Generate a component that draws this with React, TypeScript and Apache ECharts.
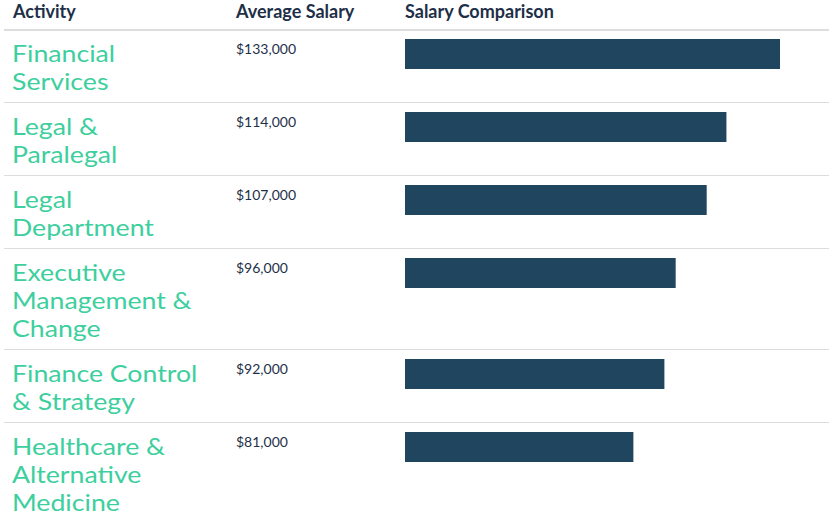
import React, { useEffect, useRef } from "react";
import * as echarts from "echarts";

const headers = ["Activity", "Average Salary", "Salary Comparison"];
const activities = [
  "Financial\nServices",
  "Legal &\nParalegal",
  "Legal\nDepartment",
  "Executive\nManagement &\nChange",
  "Finance Control\n& Strategy",
  "Healthcare &\nAlternative\nMedicine",
];
const salaries = [133000, 114000, 107000, 96000, 92000, 81000];

const W = 829;
const H = 524;
const HEADER_H = 30;
const LINE_H = 28;
const ROW_PAD = 17;
const BAR_LEFT = 405;
const BAR_MAX_W = 375;
const GREEN = "#3dcf9d";
const NAVY = "#20465f";
const TEXT = "#1e2f48";
const FONT = "Lato, 'Open Sans', sans-serif";

const fmt = (v: number) => "$" + v.toLocaleString("en-US");

export default function App() {
  const ref = useRef<HTMLDivElement>(null);
  useEffect(() => {
    if (!ref.current) return;
    const chart = echarts.init(ref.current, undefined, { renderer: "svg" });

    // row tops derived from the number of label lines
    const rowTops: number[] = [];
    let y = HEADER_H;
    activities.forEach((a) => {
      rowTops.push(y);
      y += a.split("\n").length * LINE_H + ROW_PAD;
    });

    const maxVal = salaries[0];
    chart.setOption({
      animation: false,
      grid: { left: BAR_LEFT, top: 0, width: BAR_MAX_W, height: H },
      xAxis: { type: "value", min: 0, max: maxVal, show: false },
      yAxis: { type: "value", min: 0, max: H, inverse: true, show: false },
      graphic: [
        { type: "text", left: 13, top: 2, style: { text: headers[0], font: `bold 18px ${FONT}`, fill: TEXT } },
        { type: "text", left: 236, top: 2, style: { text: headers[1], font: `bold 18px ${FONT}`, fill: TEXT } },
        { type: "text", left: 405, top: 2, style: { text: headers[2], font: `bold 18px ${FONT}`, fill: TEXT } },
        { type: "rect", shape: { x: 4, y: 29, width: W - 4, height: 2 }, style: { fill: "#dddddd" } },
      ],
      series: [
        {
          type: "custom",
          silent: true,
          data: salaries.map((s, i) => [s, rowTops[i]]),
          renderItem: (params: any, api: any) => {
            const i = params.dataIndex;
            const val = api.value(0);
            const top = api.value(1);
            const p0 = api.coord([0, top]);
            const p1 = api.coord([val, top]);
            const children: any[] = [
              {
                type: "rect",
                shape: { x: p0[0], y: p0[1] + 9, width: p1[0] - p0[0], height: 30 },
                style: { fill: NAVY },
              },
              {
                type: "text",
                x: 236,
                y: top + 11,
                style: { text: fmt(val), font: `14px ${FONT}`, fill: TEXT, verticalAlign: "top" },
              },
            ];
            activities[i].split("\n").forEach((line, k) => {
              children.push({
                type: "text",
                x: 12,
                y: top + 9 + k * LINE_H,
                scaleX: 1.16,
                style: {
                  text: line,
                  font: `23px ${FONT}`,
                  lineHeight: 27,
                  fill: GREEN,
                  verticalAlign: "top",
                },
              });
            });
            if (i > 0) {
              children.push({
                type: "rect",
                shape: { x: 4, y: top - 1, width: W - 4, height: 1 },
                style: { fill: "#dddddd" },
              });
            }
            return { type: "group", children };
          },
        },
      ],
    });
    return () => chart.dispose();
  }, []);
  return (
    <div
      ref={ref}
      style={{ position: "fixed", left: 0, top: 0, width: W, height: H, background: "#fff" }}
    />
  );
}
